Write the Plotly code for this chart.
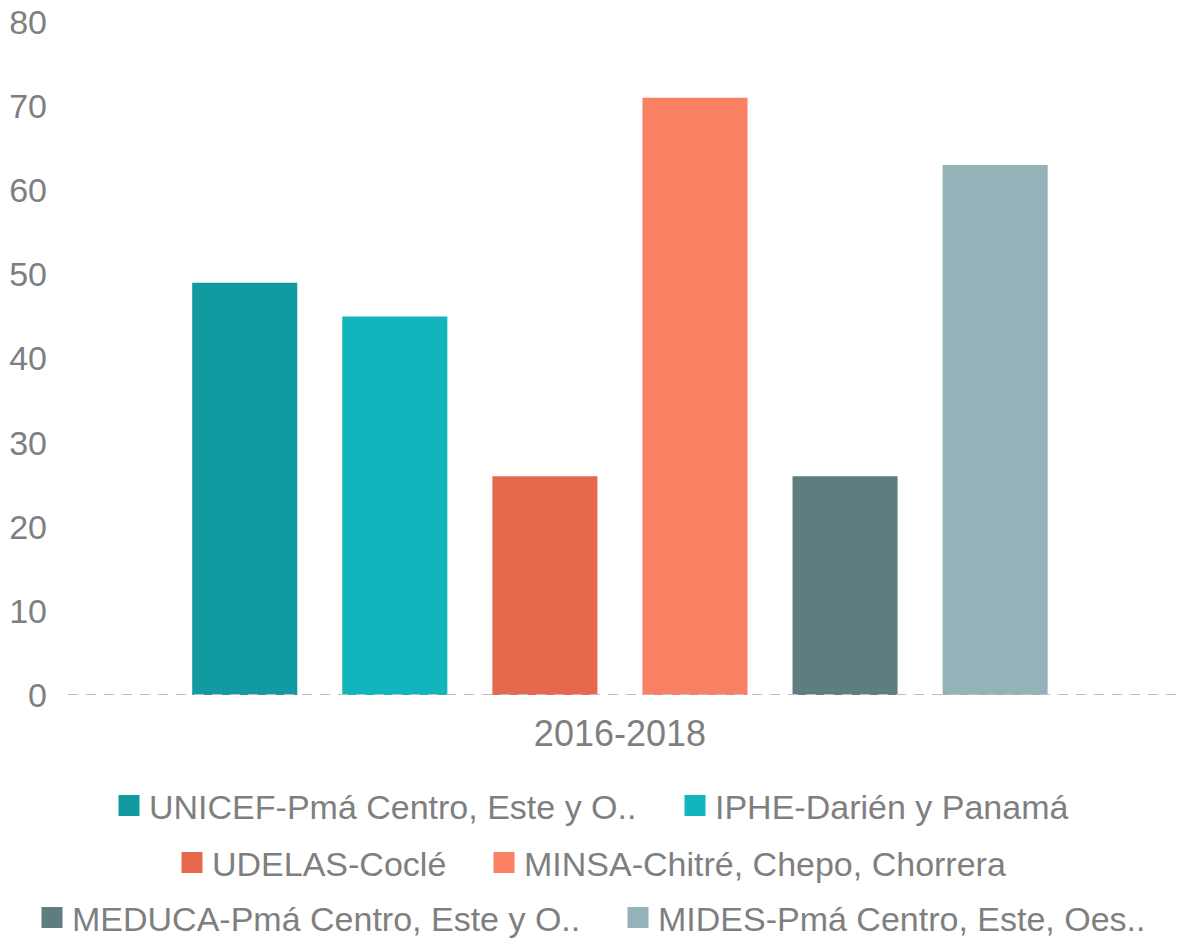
import plotly.graph_objects as go

category = ["2016-2018"]
series_names = [
    "UNICEF-Pmá Centro, Este y O..",
    "IPHE-Darién y Panamá",
    "UDELAS-Coclé",
    "MINSA-Chitré, Chepo, Chorrera",
    "MEDUCA-Pmá Centro, Este y O..",
    "MIDES-Pmá Centro, Este, Oes..",
]
series_values = [49, 45, 26, 71, 26, 63]
series_colors = ["#119AA0", "#12B5BC", "#E56A4D", "#FA8064", "#5F7D81", "#94B2B7"]
y_ticks = [0, 10, 20, 30, 40, 50, 60, 70, 80]

FONT = "Liberation Sans, Arial, sans-serif"
GREY = "#7f7f7f"

# figure is drawn inside the page's 8px body margin
W, H = 1180, 930
OFF = 8
# legend placement (text start x, row centre y) in page pixels
legend_text_x = [149, 715, 212, 524, 72, 658]
legend_row_y = [806, 806, 863, 863, 918, 918]

fig = go.Figure()
for i, (name, val, col) in enumerate(zip(series_names, series_values, series_colors)):
    lg = "legend" if i == 0 else f"legend{i+1}"
    fig.add_trace(go.Bar(
        x=category, y=[val], name=name, marker=dict(color=col, line=dict(width=0)),
        showlegend=False, legendgroup=name,
    ))
    fig.add_trace(go.Scatter(
        x=[None], y=[None], mode="markers", name=name, legend=lg, legendgroup=name,
        marker=dict(symbol="square", size=16, color=col, line=dict(color=col, width=5)),
        hoverinfo="skip",
    ))

legends = {}
for i in range(len(series_names)):
    key = "legend" if i == 0 else f"legend{i+1}"
    legends[key] = dict(
        orientation="h", xref="container", yref="container",
        x=(legend_text_x[i] - OFF - 40) / W, xanchor="left",
        y=1 - (legend_row_y[i] - OFF) / H, yanchor="middle",
        font=dict(family=FONT, size=34, color=GREY),
        bgcolor="rgba(0,0,0,0)", borderwidth=0,
    )

fig.update_layout(
    width=W, height=H,
    margin=dict(l=60, r=0, t=14, b=243, autoexpand=False),
    paper_bgcolor="white", plot_bgcolor="white",
    barmode="group", bargap=0.196, bargroupgap=0.3,
    font=dict(family=FONT, color=GREY),
    xaxis=dict(
        type="category", range=[-0.4928, 0.5072], automargin=False,
        showgrid=False, zeroline=False, showline=False, ticks="",
        tickfont=dict(size=36, color=GREY), ticklabelstandoff=14,
    ),
    yaxis=dict(
        range=[0, 80], tickvals=y_ticks, showgrid=False, zeroline=False,
        showline=False, ticks="", tickfont=dict(size=34, color=GREY),
        ticklabelstandoff=20, ticklabeloverflow="allow", automargin=False,
    ),
    shapes=[dict(
        type="line", xref="paper", x0=0, x1=1, yref="y", y0=0, y1=0,
        line=dict(color="#bdbdbd", width=2, dash="10px,8px"), layer="above",
    )],
    **legends,
)

fig.write_html("out.html")
